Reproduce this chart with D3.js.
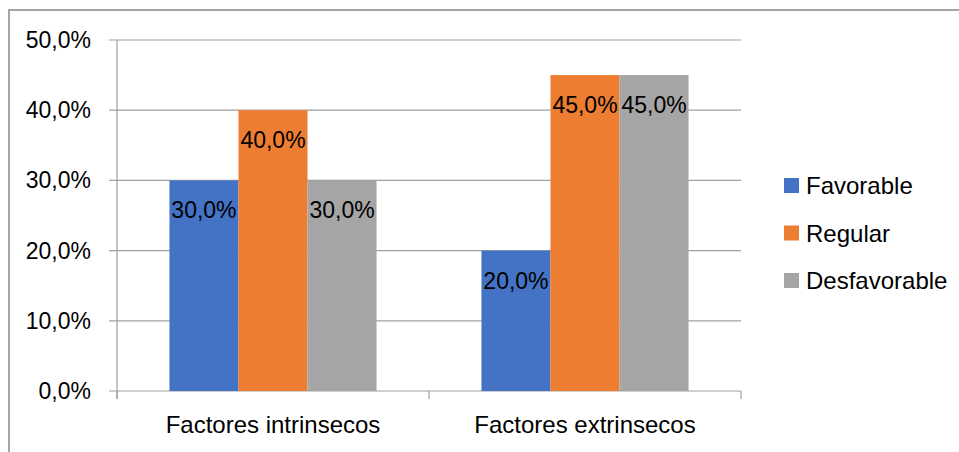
<!DOCTYPE html>
<html>
<head>
<meta charset="utf-8">
<script src="https://cdn.jsdelivr.net/npm/d3@7"></script>
<style>
  html, body { margin: 0; padding: 0; background: #fff; overflow: hidden; }
  svg { display: block; font-family: "Liberation Sans", Arial, sans-serif; }
</style>
</head>
<body>
<svg id="chart" width="959" height="452"></svg>
<script>
// Chart data
const categories = ["Factores intrinsecos", "Factores extrinsecos"];
const seriesNames = ["Favorable", "Regular", "Desfavorable"];
const favorable = [0.30, 0.20];
const regular = [0.40, 0.45];
const desfavorable = [0.30, 0.45];
const yTicks = [0, 0.1, 0.2, 0.3, 0.4, 0.5];
const colors = ["#4472C4", "#ED7D31", "#A5A5A5"];

const seriesValues = [favorable, regular, desfavorable];
const rows = categories.map((c, i) => ({
  category: c,
  values: seriesNames.map((s, j) => ({ series: s, value: seriesValues[j][i], color: colors[j] }))
}));

const svg = d3.select("#chart");
const plot = { left: 117, right: 741, top: 40, bottom: 391 };
const fontSize = 23;
const pct = d3.format(".1f");
const fmt = v => pct(v * 100).replace(".", ",") + "%";

// Outer frame
svg.append("rect")
  .attr("x", 9).attr("y", 10)
  .attr("width", 1200).attr("height", 1200)
  .attr("fill", "none").attr("stroke", "#a6a6a6").attr("stroke-width", 2);

const x0 = d3.scaleBand().domain(categories).range([plot.left, plot.right]).paddingInner(0).paddingOuter(0);
const x1 = d3.scaleBand().domain(seriesNames).range([0, x0.bandwidth()]).paddingInner(0).paddingOuter(0.76);
const y = d3.scaleLinear().domain([0, 0.5]).range([plot.bottom, plot.top]);

// Horizontal gridlines with small ticks on the left
svg.append("g").selectAll("line").data(yTicks).join("line")
  .attr("x1", plot.left - 8).attr("x2", plot.right)
  .attr("y1", d => y(d)).attr("y2", d => y(d))
  .attr("stroke", "#a0a0a0").attr("stroke-width", 1.2);

// Y axis labels
svg.append("g").selectAll("text").data(yTicks).join("text")
  .attr("x", 91).attr("y", d => y(d) + 8)
  .attr("text-anchor", "end")
  .attr("font-size", fontSize).attr("fill", "#000")
  .text(fmt);

// Bars
const groups = svg.append("g").selectAll("g").data(rows).join("g")
  .attr("transform", d => `translate(${x0(d.category)},0)`);

groups.selectAll("rect").data(d => d.values).join("rect")
  .attr("x", d => x1(d.series))
  .attr("width", x1.bandwidth())
  .attr("y", d => y(d.value))
  .attr("height", d => y(0) - y(d.value))
  .attr("fill", d => d.color);

// Value labels inside the top of each bar
groups.selectAll("text").data(d => d.values).join("text")
  .attr("x", d => x1(d.series) + x1.bandwidth() / 2)
  .attr("y", d => y(d.value) + 38)
  .attr("text-anchor", "middle")
  .attr("font-size", fontSize).attr("fill", "#000")
  .text(d => fmt(d.value));

// Y axis line and category axis ticks
svg.append("line")
  .attr("x1", plot.left).attr("x2", plot.left)
  .attr("y1", plot.top).attr("y2", plot.bottom + 8)
  .attr("stroke", "#a0a0a0").attr("stroke-width", 1.2);

const catTicks = [plot.left, ...categories.map(c => x0(c) + x0.bandwidth())];
svg.append("g").selectAll("line").data(catTicks).join("line")
  .attr("x1", d => d).attr("x2", d => d)
  .attr("y1", plot.bottom).attr("y2", plot.bottom + 8)
  .attr("stroke", "#a0a0a0").attr("stroke-width", 1.2);

svg.append("g").selectAll("text").data(categories).join("text")
  .attr("x", d => x0(d) + x0.bandwidth() / 2)
  .attr("y", 433)
  .attr("text-anchor", "middle")
  .attr("font-size", 24).attr("fill", "#000")
  .text(d => d);

// Legend
const legend = svg.append("g").selectAll("g").data(seriesNames).join("g")
  .attr("transform", (d, i) => `translate(784, ${178 + i * 47.5})`);
legend.append("rect")
  .attr("width", 15).attr("height", 15)
  .attr("fill", (d, i) => colors[i]);
legend.append("text")
  .attr("x", 22).attr("y", 16)
  .attr("font-size", 24).attr("fill", "#000")
  .text(d => d);
</script>
</body>
</html>
